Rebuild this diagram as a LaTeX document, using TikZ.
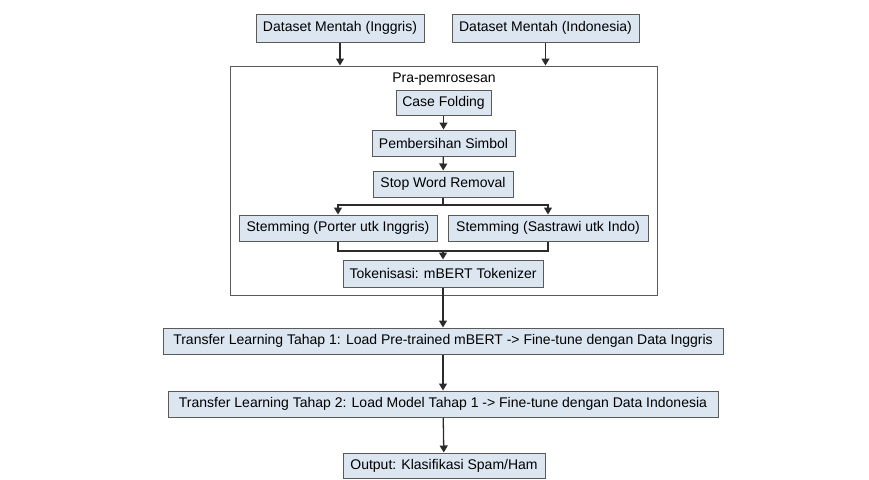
\documentclass[tikz,border=0pt]{standalone}
\usepackage{fontspec}
\setmainfont{Liberation Sans}
\usetikzlibrary{arrows.meta}
\definecolor{boxfill}{HTML}{DCE6F1}
\definecolor{boxdraw}{HTML}{5A5A5A}
\definecolor{linec}{HTML}{2B2B2B}
\begin{document}
\begin{tikzpicture}[x=1pt,y=-1pt, font=\fontsize{14}{16}\selectfont,
 proc/.style={draw=boxdraw, fill=boxfill, line width=1pt, inner sep=0pt, minimum height=26pt},
 frame/.style={draw=boxdraw, line width=1pt, inner sep=0pt},
 conn/.style={draw=linec, line width=1.3pt},
 arr/.style={conn, -{Triangle[length=7pt,width=8pt]}}]
\useasboundingbox[fill=white] (0,0) rectangle (869,479);
\node[proc, minimum width=168pt, minimum height=28pt] (in1) at (340,28) {Dataset Mentah (Inggris)};
\node[proc, minimum width=187pt, minimum height=28pt] (in2) at (545.5,28) {Dataset Mentah (Indonesia)};
\node[frame, minimum width=427pt, minimum height=229pt] (pre) at (443.5,180.5) {};
\node (lbl) at (444,79) {Pra-pemrosesan};
\node[proc, minimum width=95pt, minimum height=25pt] (cf) at (443.5,102.5) {Case Folding};
\node[proc, minimum width=143pt] (ps) at (443.5,143) {Pembersihan Simbol};
\node[proc, minimum width=140pt] (sw) at (443,184) {Stop Word Removal};
\node[proc, minimum width=198pt] (stA) at (338,228) {Stemming (Porter utk Inggris)};
\node[proc, minimum width=200pt] (stB) at (548,228) {Stemming (Sastrawi utk Indo)};
\node[proc, minimum width=200pt, minimum height=27pt] (tok) at (443,273.5) {Tokenisasi: mBERT Tokenizer};
\node[proc, minimum width=560pt] (tl1) at (443,341) {Transfer Learning Tahap 1: Load Pre-trained mBERT -> Fine-tune dengan Data Inggris};
\node[proc, minimum width=550pt] (tl2) at (443,404) {Transfer Learning Tahap 2: Load Model Tahap 1 -> Fine-tune dengan Data Indonesia};
\node[proc, minimum width=202pt, minimum height=25pt] (out) at (444,465.5) {Output: Klasifikasi Spam/Ham};
\draw[arr] (in1.south) -- (in1.south |- pre.north);
\draw[arr] (in2.south) -- (in2.south |- pre.north);
\draw[arr] (cf) -- (ps);
\draw[arr] (ps) -- (sw);
\coordinate (split) at (443,205);
\coordinate (merge) at (443,251);
\draw[conn] (sw.south) -- (split);
\draw[arr] (split) -| (stA.north);
\draw[arr] (split) -| (stB.north);
\draw[conn] (stA.south) |- (merge);
\draw[conn] (stB.south) |- (merge);
\draw[arr] (merge) -- (tok.north);
\coordinate (preout) at (tok.south |- pre.south);
\draw[conn] (tok.south) -- (preout);
\draw[arr] (preout) -- (tl1.north);
\draw[arr] (tl1) -- (tl2);
\draw[arr] (tl2) -- (out);
\end{tikzpicture}
\end{document}
